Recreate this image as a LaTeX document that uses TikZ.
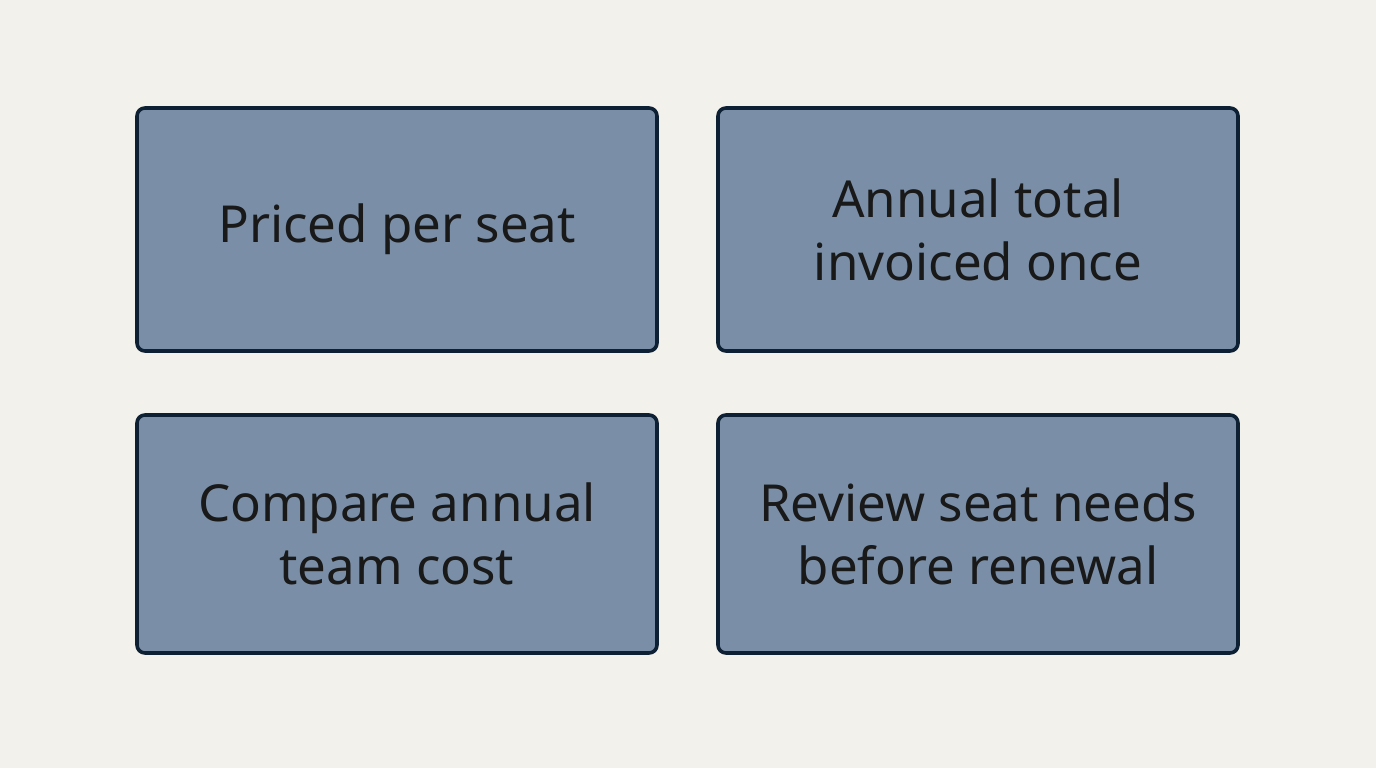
\documentclass[tikz,border=0pt]{standalone}
\usepackage{fontspec}
\setmainfont{Noto Sans}
\begin{document}
\begin{tikzpicture}[x=0.5pt,y=0.5pt,
  box/.style={draw=boxline,fill=boxfill,line width=1.8pt,rounded corners=4pt,inner sep=0pt,
    font=\fontsize{25.5}{31.5}\selectfont,align=center,text=black!90}]
\definecolor{bg}{HTML}{F3F1EC}
\definecolor{boxfill}{HTML}{7A8FA7}
\definecolor{boxline}{HTML}{0E2033}
\fill[bg] (0,0) rectangle (1376,768);
\useasboundingbox (0,0) rectangle (1376,768);
\node[box,minimum width=260pt,minimum height=121.5pt] (a) at (397,538.5) {Priced per seat};
\node[box,minimum width=260pt,minimum height=121.5pt] (b) at (978,538.5) {Annual total\\invoiced once};
\node[box,minimum width=260pt,minimum height=119pt] (c) at (397,234) {Compare annual\\team cost};
\node[box,minimum width=260pt,minimum height=119pt] (d) at (978,234) {Review seat needs\\before renewal};
\end{tikzpicture}
\end{document}
